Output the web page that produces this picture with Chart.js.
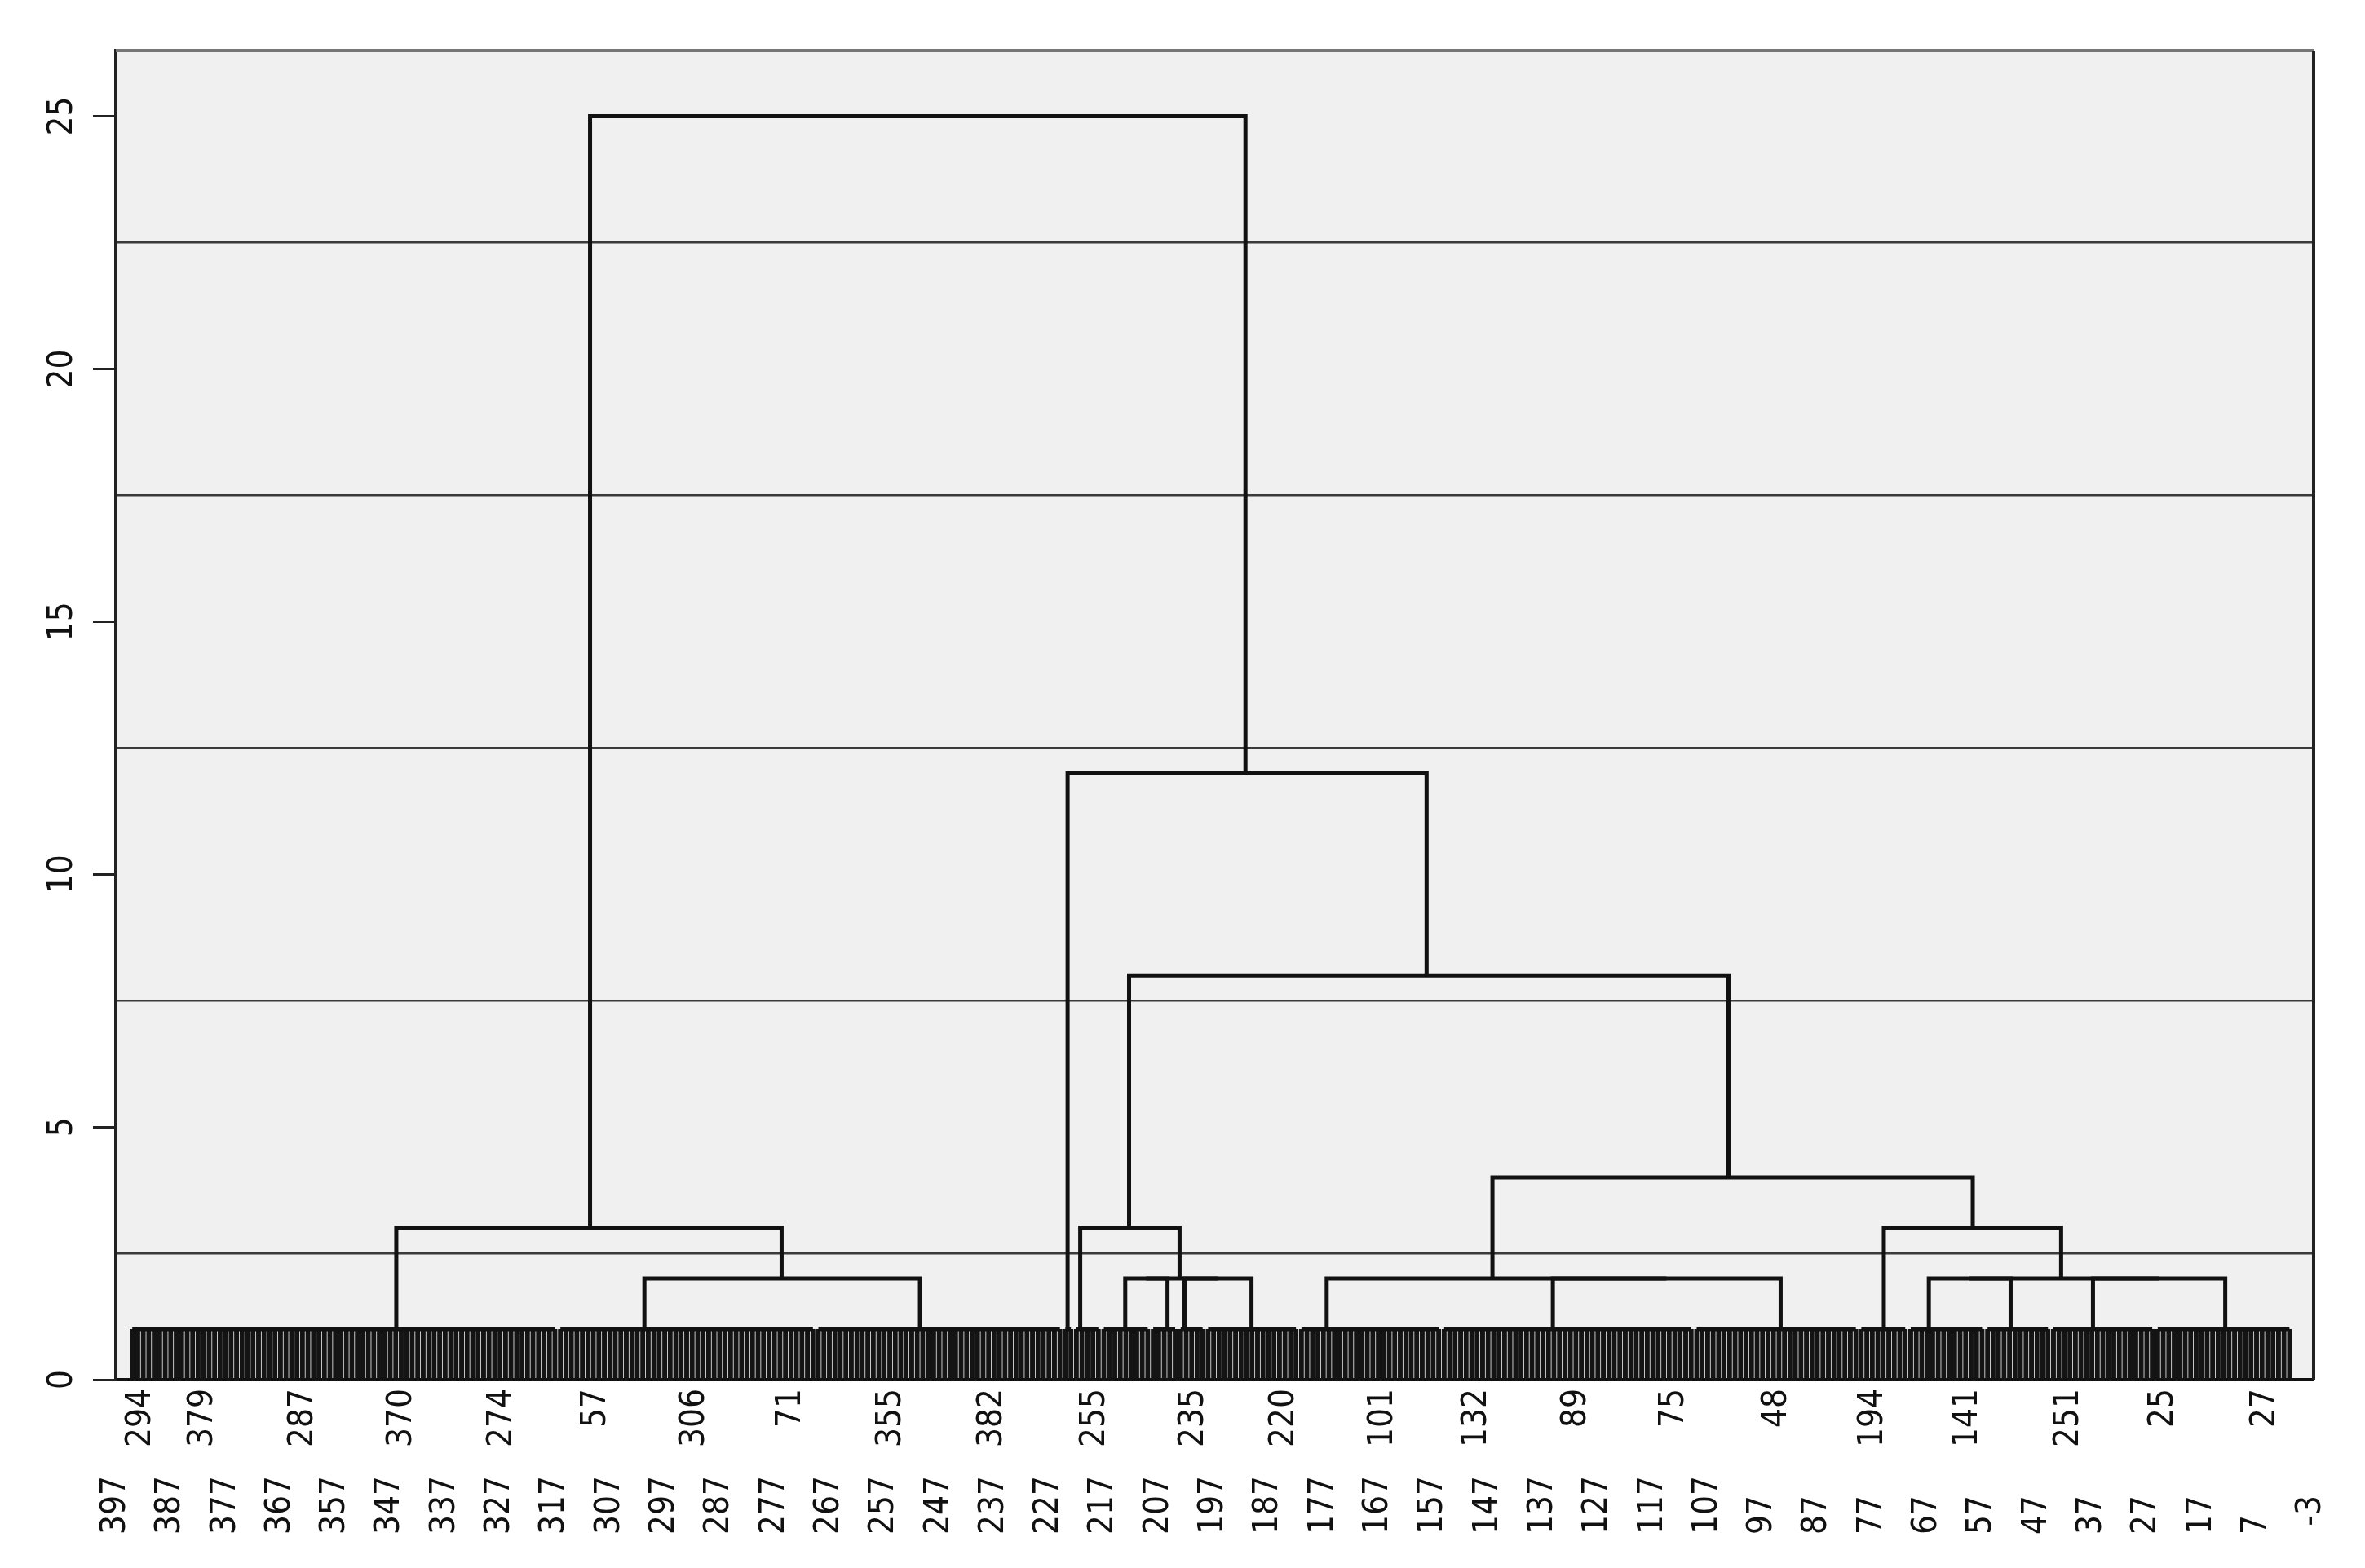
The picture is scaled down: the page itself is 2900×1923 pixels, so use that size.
<!DOCTYPE html>
<html>
<head>
    <title>Dendrogram with Chart.js</title>
    <meta charset="UTF-8">
    <script src="https://cdn.jsdelivr.net/npm/chart.js"></script>
    <style>
        html, body { margin: 0; padding: 0; background: #ffffff; }
        canvas { display: block; }
    </style>
</head>
<body>
    <canvas id="tree_chart" width="2900" height="1923"></canvas>
    <script>
        // leaf groups joined at level 1: first leaf and last leaf (leaf positions on the x axis)
        var groupFrom = [317, 270, 225, 223, 218, 209, 204, 199, 182, 156, 110, 80, 71, 57, 45, 26, 1];
        var groupTo   = [394, 316, 269, 224, 222, 217, 208, 203, 198, 181, 155, 109, 79, 70, 56, 44, 25];
        var leafHeight = 1;

        // merges: column and base height of both branches, then the merge height
        var mergeX1 = [300.7, 345.9, 213.1, 202.3, 209.3, 221.3, 135.2, 176.4, 66.7, 36.8, 59.3, 74.9, 146.2, 212.4, 223.6, 310.6];
        var mergeY1 = [1,     1,     1,     1,     2,     1,     1,     1,     1,    1,    2,    1,    2,     3,     1,     3];
        var mergeX2 = [250.5, 275.7, 205.4, 190.1, 196.2, 203.2, 93.7,  114.5, 51.8, 12.7, 24.7, 42.6, 58.7,  103.2, 158.2, 191.2];
        var mergeY2 = [1,     2,     1,     1,     2,     2,     1,     2,     1,    1,    2,    2,    3,     4,     8,     12];
        var mergeH  = [2,     3,     2,     2,     2,     3,     2,     2,     2,    2,    2,    3,    4,     8,     12,    25];

        // case labels shown under the tree and where they sit
        var caseLabels = ['294', '379', '287', '370', '274', '57', '306', '71', '355', '382', '255', '235',
                          '220', '101', '132', '89', '75', '48', '194', '141', '251', '25', '27'];
        var casePos = [392.4, 381.1, 362.8, 344.9, 326.6, 309.5, 291.5, 274.0, 255.7, 237.3, 218.5, 200.6,
                       184.1, 166.1, 149.0, 130.9, 113.1, 94.4, 76.8, 59.6, 41.1, 23.9, 5.4];

        // bottom row of the x axis
        var axisTicks = [397, 387, 377, 367, 357, 347, 337, 327, 317, 307, 297, 287, 277, 267, 257, 247, 237,
                         227, 217, 207, 197, 187, 177, 167, 157, 147, 137, 127, 117, 107, 97, 87, 77, 67, 57,
                         47, 37, 27, 17, 7, -3];
        var yTicks = [0, 5, 10, 15, 20, 25];
        var gridLevels = [2.5, 7.5, 12.5, 17.5, 22.5];

        var xMin = -3.4, xMax = 397, yMax = 26.3;
        var inkColor = '#111111';
        var tickFont = { family: "'Liberation Sans Narrow', 'DejaVu Sans Condensed', 'Liberation Sans', Arial, sans-serif", size: 42 };

        // leaves: one thin bar per case
        var leaves = [];
        for (var g = 0; g < groupFrom.length; g++) {
            for (var i = groupFrom[g]; i <= groupTo[g]; i++) {
                leaves.push({ x: i, y: leafHeight });
            }
        }

        var datasets = [{
            type: 'bar',
            data: leaves,
            xAxisID: 'x',
            yAxisID: 'y',
            backgroundColor: '#141414',
            borderWidth: 0,
            barPercentage: 0.88,
            categoryPercentage: 1,
            order: 2
        }];

        function linkSet(points) {
            return {
                type: 'line',
                data: points,
                xAxisID: 'x',
                yAxisID: 'y',
                borderColor: inkColor,
                borderWidth: 5,
                borderJoinStyle: 'miter',
                pointRadius: 0,
                pointHitRadius: 0,
                fill: false,
                tension: 0,
                order: 1
            };
        }

        // level 1 joins over each leaf group
        for (var g = 0; g < groupFrom.length; g++) {
            datasets.push(linkSet([{ x: groupFrom[g], y: leafHeight }, { x: groupTo[g], y: leafHeight }]));
        }
        // the U shapes of the tree
        for (var m = 0; m < mergeH.length; m++) {
            datasets.push(linkSet([
                { x: mergeX1[m], y: mergeY1[m] },
                { x: mergeX1[m], y: mergeH[m] },
                { x: mergeX2[m], y: mergeH[m] },
                { x: mergeX2[m], y: mergeY2[m] }
            ]));
        }

        // grey plot background and the top / right frame
        var plotFrame = {
            id: 'plotFrame',
            beforeDraw: function (chart) {
                var a = chart.chartArea, ctx = chart.ctx;
                ctx.save();
                ctx.fillStyle = '#f0f0f0';
                ctx.fillRect(a.left, a.top, a.right - a.left, a.bottom - a.top);
                ctx.restore();
            },
            afterDraw: function (chart) {
                var a = chart.chartArea, ctx = chart.ctx;
                ctx.save();
                ctx.lineWidth = 4;
                ctx.strokeStyle = '#777777';
                ctx.beginPath();
                ctx.moveTo(a.left, a.top);
                ctx.lineTo(a.right, a.top);
                ctx.stroke();
                ctx.strokeStyle = '#222222';
                ctx.beginPath();
                ctx.moveTo(a.right, a.top);
                ctx.lineTo(a.right, a.bottom);
                ctx.stroke();
                ctx.restore();
            }
        };

        var ctx = document.getElementById('tree_chart').getContext('2d');
        var chart = new Chart(ctx, {
            type: 'line',
            data: { datasets: datasets },
            options: {
                responsive: false,
                animation: false,
                events: [],
                layout: { padding: { top: 62, right: 63, left: 0, bottom: 0 } },
                plugins: {
                    legend: { display: false },
                    tooltip: { enabled: false }
                },
                scales: {
                    x: {
                        type: 'linear',
                        position: 'bottom',
                        reverse: true,
                        min: xMin,
                        max: xMax,
                        offset: false,
                        weight: 0,
                        grid: { display: false, drawTicks: false, tickLength: 0 },
                        border: { display: true, color: inkColor, width: 4 },
                        afterBuildTicks: function (axis) {
                            axis.ticks = casePos.map(function (v) { return { value: v }; });
                        },
                        ticks: {
                            autoSkip: false,
                            minRotation: 90,
                            maxRotation: 90,
                            padding: 11,
                            color: inkColor,
                            font: tickFont,
                            callback: function (value, index) { return caseLabels[index]; }
                        },
                        afterFit: function (axis) { axis.height = 110; }
                    },
                    xb: {
                        type: 'linear',
                        position: 'bottom',
                        reverse: true,
                        min: xMin,
                        max: xMax,
                        offset: false,
                        weight: 1,
                        grid: { display: false, drawTicks: false, tickLength: 0 },
                        border: { display: false },
                        afterBuildTicks: function (axis) {
                            axis.ticks = axisTicks.map(function (v) { return { value: v }; });
                        },
                        ticks: {
                            autoSkip: false,
                            minRotation: 90,
                            maxRotation: 90,
                            padding: 8,
                            color: inkColor,
                            font: tickFont,
                            callback: function (value) {
                                var s = String(value);
                                while (s.length < 3) s += '\u2007';
                                return s;
                            }
                        },
                        afterFit: function (axis) { axis.height = 121; }
                    },
                    y: {
                        type: 'linear',
                        position: 'left',
                        min: 0,
                        max: yMax,
                        afterBuildTicks: function (axis) {
                            axis.ticks = yTicks.map(function (v) { return { value: v }; });
                        },
                        grid: { drawOnChartArea: false, drawTicks: true, tickLength: 28, color: '#222222', lineWidth: 3 },
                        border: { display: true, color: '#222222', width: 4 },
                        ticks: {
                            minRotation: 90,
                            maxRotation: 90,
                            crossAlign: 'center',
                            padding: 13,
                            color: inkColor,
                            font: tickFont
                        },
                        afterFit: function (axis) { axis.width = 142; }
                    },
                    yGrid: {
                        type: 'linear',
                        position: 'left',
                        min: 0,
                        max: yMax,
                        afterBuildTicks: function (axis) {
                            axis.ticks = gridLevels.map(function (v) { return { value: v }; });
                        },
                        grid: { drawOnChartArea: true, drawTicks: false, color: '#3a3a3a', lineWidth: 2.5 },
                        border: { display: false },
                        ticks: { display: false },
                        afterFit: function (axis) { axis.width = 0; }
                    }
                }
            },
            plugins: [plotFrame]
        });
    </script>
</body>
</html>
